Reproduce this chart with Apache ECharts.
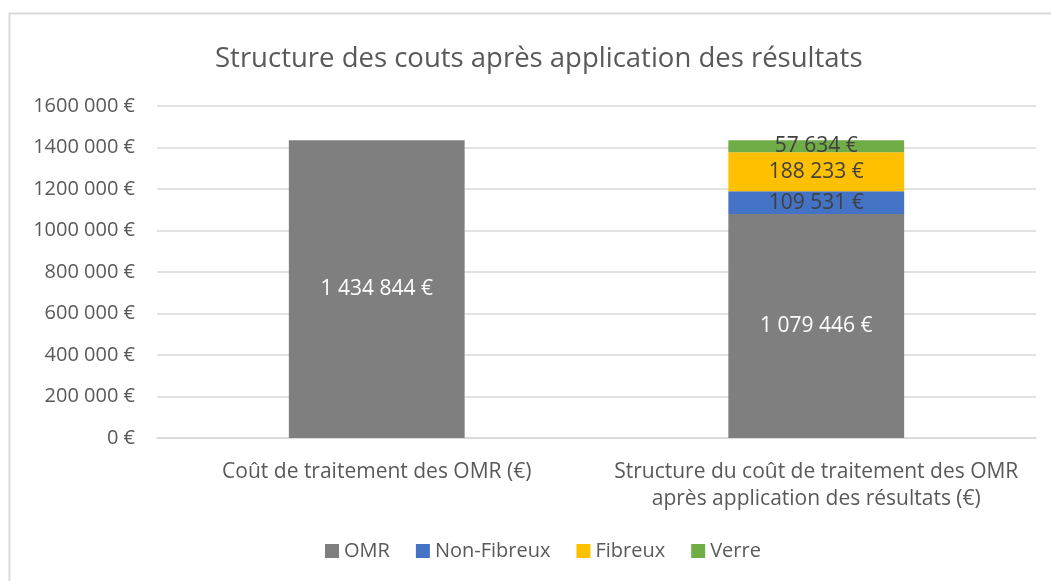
<!DOCTYPE html>
<html>
<head>
<meta charset="utf-8">
<script src="https://cdn.jsdelivr.net/npm/echarts@6/dist/echarts.min.js"></script>
<style>
html,body{margin:0;padding:0;background:#fff;}
#chart{width:1051px;height:581px;}
</style>
</head>
<body>
<div id="chart"></div>
<script>
const categories = ["Coût de traitement des OMR (€)", "Structure du coût de traitement des OMR\naprès application des résultats (€)"];
const seriesNames = ["OMR", "Non-Fibreux", "Fibreux", "Verre"];
const omr = [1434844, 1079446];
const nonFibreux = [null, 109531];
const fibreux = [null, 188233];
const verre = [null, 57634];
const yTicks = [0, 200000, 400000, 600000, 800000, 1000000, 1200000, 1400000, 1600000];

const FONT = '"Open Sans", "Liberation Sans", sans-serif';
function grp(n){ return String(Math.round(n)).replace(/\B(?=(\d{3})+(?!\d))/g, ' '); }
function axisFmt(v){
  if (v === 0) return '0 €';
  const s = String(v);
  if (v >= 1000000) return s.slice(0, s.length-3) + ' ' + s.slice(-3) + ' €';
  return grp(v) + ' €';
}
const colors = ['#7f7f7f', '#4472c4', '#ffc000', '#70ad47'];
const chart = echarts.init(document.getElementById('chart'));
function mk(name, data, idx, labelColor){
  return {
    name: name, type: 'bar', stack: 's', data: data, barWidth: '40%',
    itemStyle: {color: colors[idx]},
    label: {show: true, position: 'inside', color: labelColor, fontFamily: FONT, fontSize: 21,
      formatter: p => p.value == null ? '' : grp(p.value) + ' €'},
    emphasis: {disabled: true}
  };
}
chart.setOption({
  animation: false,
  title: {text: 'Structure des couts après application des résultats', left: 210, top: 40,
    textStyle: {fontFamily: FONT, fontSize: 27.5, fontWeight: 'normal', color: '#595959'}},
  graphic: [{type: 'rect', shape: {x: 9.5, y: 13.5, width: 1100, height: 700}, style: {fill: 'none', stroke: '#d9d9d9', lineWidth: 2}, silent: true}],
  legend: {data: seriesNames, bottom: 15, left: 320, itemWidth: 14, itemHeight: 14, itemGap: 26, icon: 'rect',
    textStyle: {fontFamily: FONT, fontSize: 20, color: '#595959'}},
  grid: {left: 157, right: 15, top: 106, bottom: 143, containLabel: false},
  xAxis: {type: 'category', data: categories,
    axisLine: {lineStyle: {color: '#d9d9d9', width: 1.5}}, axisTick: {show: false},
    axisLabel: {fontFamily: FONT, fontSize: 21, color: '#595959', margin: 21, lineHeight: 27, interval: 0}},
  yAxis: {type: 'value', min: 0, max: 1600000, interval: 200000,
    axisLine: {show: false}, axisTick: {show: false},
    splitLine: {lineStyle: {color: '#d9d9d9', width: 1.5}},
    axisLabel: {fontFamily: FONT, fontSize: 20, color: '#595959', margin: 22, formatter: axisFmt}},
  series: [
    mk('OMR', omr, 0, '#ffffff'),
    mk('Non-Fibreux', nonFibreux, 1, '#404040'),
    mk('Fibreux', fibreux, 2, '#404040'),
    mk('Verre', verre, 3, '#404040')
  ]
});
</script>
</body>
</html>
